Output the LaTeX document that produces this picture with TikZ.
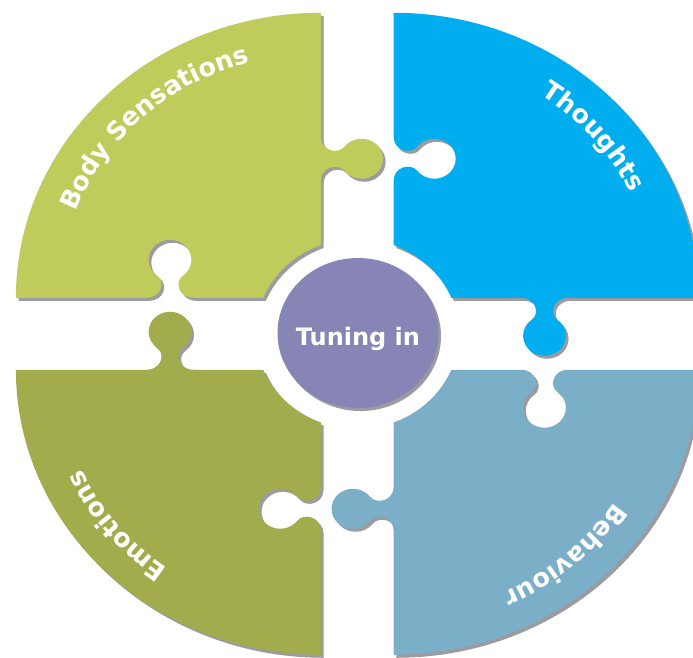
\documentclass[tikz,border=0pt]{standalone}
\usepackage{fontspec}
\setmainfont{DejaVu Sans}
\usetikzlibrary{calc,decorations.text}

\definecolor{tlc}{RGB}{191,203,91}
\definecolor{blc}{RGB}{162,172,76}
\definecolor{trc}{RGB}{0,174,239}
\definecolor{brc}{RGB}{123,174,199}
\definecolor{purp}{RGB}{135,133,181}
\definecolor{shad}{RGB}{155,155,160}

% local frame of a knob: origin on the edge, u along the edge, v towards the bulb
\tikzset{kf/.style n args={4}{shift={(#1,#2)},rotate=#3,yscale=#4}}
\newcommand\knobpath[1]{%
  -- (#1-22,0)
  .. controls (#1-8,0) and (#1-4,16) .. (#1-12,22)
  .. controls (#1-17.04,25.78) and (#1-20,31.7) .. (#1-20,38)
  .. controls (#1-20,49.05) and (#1-11.05,58) .. (#1 0,58)
  .. controls (#1 11.05,58) and (#1 20,49.05) .. (#1 20,38)
  .. controls (#1 20,31.7) and (#1 17.04,25.78) .. (#1 12,22)
  .. controls (#1 4,16) and (#1 8,0) .. (#1 22,0)}
\newcommand\knob[4]{\knobpath{[kf={#1}{#2}{#3}{#4}]}}

% the four puzzle pieces (centre of the puzzle at the origin)
\newcommand\pieceTL{(-34,321) arc[start angle=90,end angle=180,radius=285]
  \knob{-175}{36}{0}{1} -- (-87.915,36)
  arc[start angle=157.73,end angle=110.97,radius=95]
  \knob{-34}{175}{90}{-1} -- cycle}
\newcommand\pieceTR{(319,36) arc[start angle=0,end angle=90,radius=285]
  \knob{34}{175}{-90}{1} -- (34,88.707)
  arc[start angle=69.03,end angle=22.27,radius=95]
  \knob{175}{36}{0}{-1} -- cycle}
\newcommand\pieceBL{(-319,-36) arc[start angle=180,end angle=270,radius=285]
  \knob{-34}{-175}{90}{1} -- (-34,-88.707)
  arc[start angle=-110.97,end angle=-157.73,radius=95]
  \knob{-175}{-36}{180}{-1} -- cycle}
\newcommand\pieceBR{(34,-321) arc[start angle=270,end angle=360,radius=285]
  \knob{175}{-36}{180}{1} -- (87.915,-36)
  arc[start angle=-22.27,end angle=-69.03,radius=95]
  \knob{34}{-175}{-90}{-1} -- cycle}

\newcommand\lbl{\fontsize{25.5}{27}\selectfont\bfseries}
\tikzset{
  curvelabel/.style={decorate,decoration={text along path,text={|\lbl|#1},
    text align=center,text color=white}}
}

\begin{document}
\begin{tikzpicture}[x=1pt,y=1pt]
\useasboundingbox (0,0) rectangle (693,-657);
\clip (0,0) rectangle (693,-657);
\fill[white] (0,0) rectangle (693,-657);

\begin{scope}[shift={(357.25,-333.75)},xscale=1.07]
  % drop shadows
  \fill[shad,shift={(2.5,-3)}] \pieceTL;
  \fill[shad,shift={(2.5,-3)}] \pieceTR;
  \fill[shad,shift={(2.5,-3)}] \pieceBL;
  \fill[shad,shift={(2.5,-3)}] \pieceBR;
  % pieces
  \fill[tlc] \pieceTL;
  \fill[trc] \pieceTR;
  \fill[blc] \pieceBL;
  \fill[brc] \pieceBR;
\end{scope}

% piece corners, for the curved labels
\coordinate (cTL) at (320.87,-297.75);
\coordinate (cTR) at (393.63,-297.75);
\coordinate (cBL) at (320.87,-369.75);
\coordinate (cBR) at (393.63,-369.75);

\path[curvelabel={Body Sensations}]
  ($(cTL)+(173:262pt and 245pt)$) arc[start angle=173,end angle=93,x radius=262pt,y radius=245pt];
\path[curvelabel={Thoughts}]
  ($(cTR)+(80:262pt and 245pt)$) arc[start angle=80,end angle=0,x radius=262pt,y radius=245pt];
\path[curvelabel={Behaviour}]
  ($(cBR)+(-8.4:262pt and 245pt)$) arc[start angle=-8.4,end angle=-88.4,x radius=262pt,y radius=245pt];
\path[curvelabel={Emotions}]
  ($(cBL)+(-101.6:262pt and 245pt)$) arc[start angle=-101.6,end angle=-181.6,x radius=262pt,y radius=245pt];

% centre disc
\fill[shad] (360.5,-336) ellipse [x radius=80.5,y radius=75];
\fill[purp] (358,-333) ellipse [x radius=80.5,y radius=75];
\node[text=white,inner sep=0pt,font=\fontsize{24}{26}\selectfont\bfseries] (hub) at (358,-339) {Tuning in};
\end{tikzpicture}
\end{document}
